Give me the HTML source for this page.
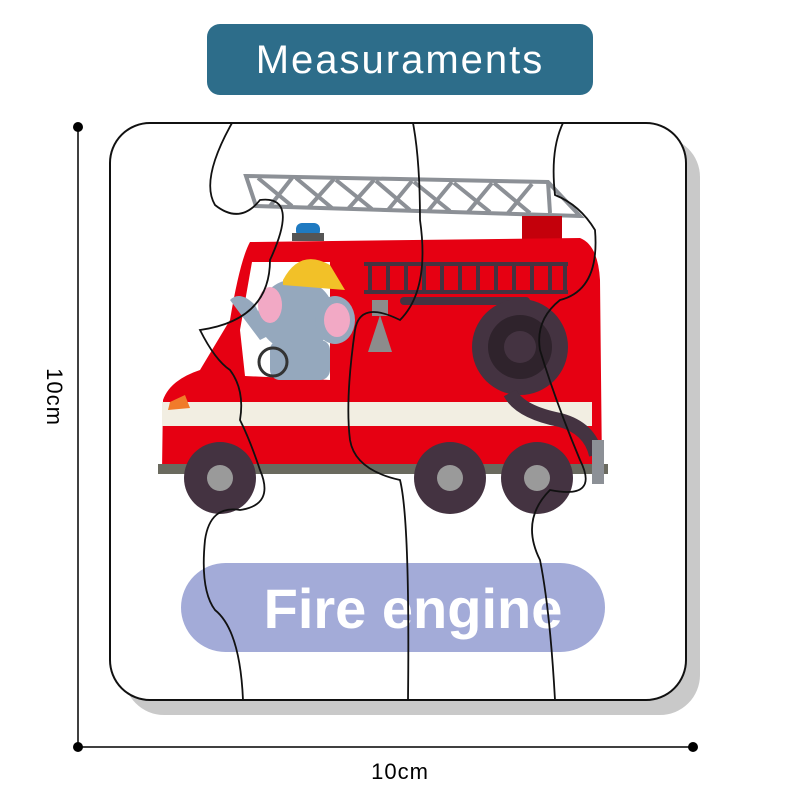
<!DOCTYPE html>
<html><head><meta charset="utf-8"><style>
html,body{margin:0;padding:0;background:#fff;width:800px;height:800px;overflow:hidden}
</style></head><body>
<svg width="800" height="800" viewBox="0 0 800 800" xmlns="http://www.w3.org/2000/svg" font-family="Liberation Sans, sans-serif">
<rect width="800" height="800" fill="#fff"/>
<rect x="207" y="24" width="386" height="71" rx="13" fill="#2d6d8a"/>
<text x="400" y="73" text-anchor="middle" fill="#fff" font-size="40" letter-spacing="2">Measuraments</text>
<line x1="78" y1="127" x2="78" y2="747" stroke="#000" stroke-width="1.5"/>
<line x1="78" y1="747" x2="693" y2="747" stroke="#000" stroke-width="1.5"/>
<circle cx="78" cy="127" r="5" fill="#000"/><circle cx="78" cy="747" r="5" fill="#000"/><circle cx="693" cy="747" r="5" fill="#000"/>
<text x="400" y="779" text-anchor="middle" font-size="22" letter-spacing="1">10cm</text>
<text transform="translate(47,397) rotate(90)" text-anchor="middle" font-size="22" letter-spacing="1">10cm</text>
<rect x="124" y="137" width="576" height="578" rx="40" fill="#c9c9c9"/>
<rect x="110" y="123" width="576" height="577" rx="40" fill="#fff" stroke="#111" stroke-width="2"/>
<g stroke="#8c9096" stroke-width="4" fill="none">
<path d="M246 176 L548 182 L580 216 L256 206 Z"/>
<path d="M258 178 L292 206 M292 178 L270 206 M296 178 L332 208 M334 179 L308 208 M336 180 L372 209 M374 180 L348 209 M376 181 L410 210 M412 181 L388 210 M414 182 L450 211 M452 182 L428 211 M454 183 L490 212 M492 183 L468 212 M494 183 L530 213 M532 184 L508 213 M548 182 L550 213"/>
</g>
<rect x="522" y="216" width="40" height="30" fill="#c4000b"/>
<rect x="296" y="223" width="24" height="14" rx="6" fill="#1f7ac1"/>
<rect x="292" y="233" width="32" height="8" fill="#555"/>
<path d="M250 242 L580 238 Q598 245 600 280 L602 470 L162 470 L163 400 Q170 380 200 370 L230 320 Q240 260 250 242 Z" fill="#e60012"/>
<rect x="162" y="402" width="430" height="24" fill="#f2eee2"/>
<path d="M170 402 L185 395 L190 408 L168 410Z" fill="#f07b2a"/>
<rect x="158" y="464" width="450" height="10" fill="#6a6a5f"/>
<path d="M252 262 L330 262 L330 380 L245 376 L240 330 Z" fill="#fff"/>
<ellipse cx="296" cy="315" rx="38" ry="36" fill="#95a8bd"/>
<ellipse cx="270" cy="305" rx="12" ry="18" fill="#f2a9c5"/>
<ellipse cx="335" cy="320" rx="20" ry="24" fill="#95a8bd"/><ellipse cx="337" cy="320" rx="13" ry="17" fill="#f2a9c5"/>
<path d="M230 300 Q240 290 255 305 L270 335 L260 340 Z" fill="#95a8bd"/>
<rect x="270" y="340" width="60" height="40" rx="10" fill="#95a8bd"/>
<path d="M283 280 Q300 248 330 265 L345 290 L283 285Z" fill="#f2c128"/>
<circle cx="273" cy="362" r="14" fill="none" stroke="#333" stroke-width="3"/>
<g stroke="#443341" stroke-width="4" fill="none">
<line x1="364" y1="264" x2="568" y2="264"/><line x1="364" y1="292" x2="568" y2="292"/>
<path d="M370 264v28M388 264v28M406 264v28M424 264v28M442 264v28M460 264v28M478 264v28M496 264v28M514 264v28M532 264v28M550 264v28M565 264v28"/>
</g>
<rect x="372" y="300" width="16" height="16" fill="#8c8c8c"/>
<path d="M368 352 L380 315 L392 352 Z" fill="#8c8c8c"/>
<rect x="400" y="297" width="130" height="8" rx="4" fill="#443341"/>
<circle cx="520" cy="347" r="48" fill="#443341"/><circle cx="520" cy="347" r="32" fill="#2f232c"/><circle cx="520" cy="347" r="16" fill="#443341"/>
<path d="M510 393 Q520 412 560 420 Q590 428 596 455" stroke="#443341" stroke-width="14" fill="none"/>
<rect x="592" y="440" width="12" height="44" fill="#8c9096"/>
<g fill="#443341"><circle cx="220" cy="478" r="36"/><circle cx="450" cy="478" r="36"/><circle cx="537" cy="478" r="36"/></g>
<g fill="#9a9a9a"><circle cx="220" cy="478" r="13"/><circle cx="450" cy="478" r="13"/><circle cx="537" cy="478" r="13"/></g>
<rect x="181" y="563" width="424" height="89" rx="44.5" fill="#a3abd8"/>
<text x="413" y="628" text-anchor="middle" fill="#fff" font-size="56" font-weight="bold">Fire engine</text>
<g stroke="#111" stroke-width="1.8" fill="none">
<path d="M232 123 Q200 180 215 205 Q240 225 260 200 Q300 195 270 260 Q270 320 200 330 Q215 360 230 370 Q245 390 240 420 Q250 440 260 470 Q275 505 240 510 Q210 505 205 540 Q200 590 215 610 Q240 630 243 700"/>
<path d="M413 123 Q420 160 420 220 Q430 290 400 320 Q360 300 355 330 Q345 400 350 440 Q355 470 400 480 Q410 520 408 700"/>
<path d="M563 123 Q550 150 555 195 Q580 205 595 230 Q600 290 560 300 Q535 320 540 350 Q555 400 580 460 Q600 500 550 490 Q520 520 540 560 Q550 610 555 700"/>
</g>
</svg>
</body></html>
